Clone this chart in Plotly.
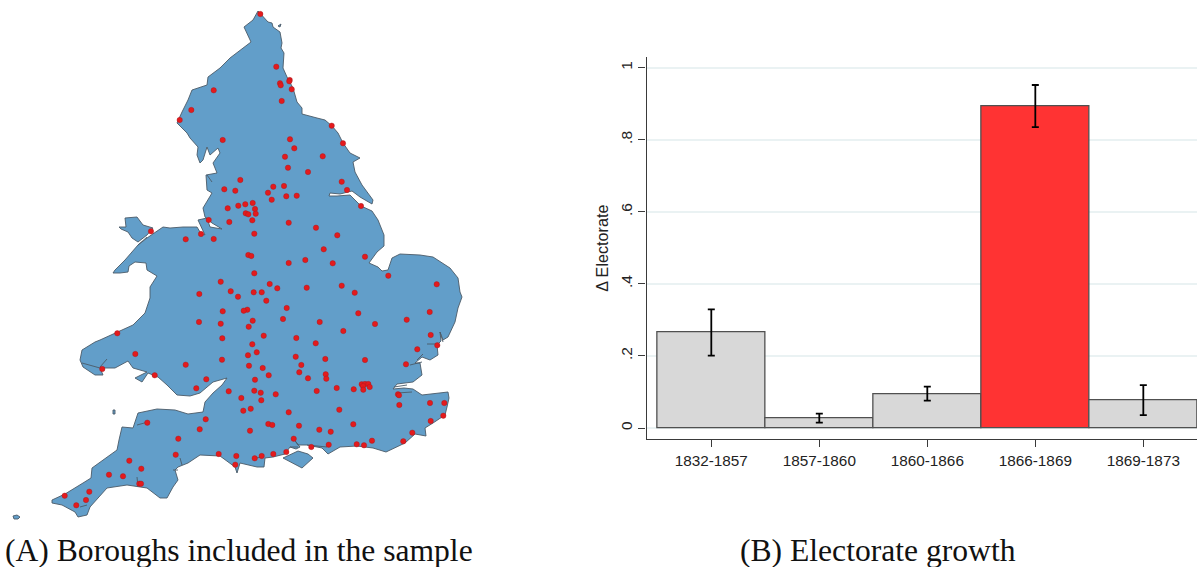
import plotly.graph_objects as go

# ---------- Panel B data ----------
periods = ["1832-1857", "1857-1860", "1860-1866", "1866-1869", "1869-1873"]
growth = [0.2645, 0.0278, 0.0944, 0.893, 0.0757]
err_high = [0.329, 0.040, 0.115, 0.952, 0.119]
err_low = [0.2007, 0.015, 0.076, 0.835, 0.036]
bar_colors = ["#d8d8d8", "#d8d8d8", "#d8d8d8", "#ff3333", "#d8d8d8"]
y_ticks = [0, 0.2, 0.4, 0.6, 0.8, 1]
y_labels = ["0", ".2", ".4", ".6", ".8", "1"]

# ---------- Panel A data (map-plane coordinates) ----------
main_x = [258,262,268,272,273,280,282,281,284,283,287,293,297,302,302,317,325,332,338,343,350,360,353,355,362,373,372,
          360,352,340,330,329,337,350,355,361,372,378,384,384,377,370,369,378,382,388,392,400,420,433,450,458,460,462,458,455,448,443,
          440,441,437,438,430,422,415,420,422,413,397,393,404,413,422,448,449,447,445,433,425,426,415,405,397,386,373,357,340,328,322,307,298,
          293,300,296,290,285,273,265,264,257,240,237,235,220,200,188,178,175,178,173,167,160,147,127,107,
          90,87,78,75,62,52,52,65,83,91,92,117,119,122,133,138,157,175,188,203,205,213,222,227,213,200,190,177,167,158,148,142,135,147,133,128,115,100,103,95,83,80,82,95,100,117,133,145,150,150,157,147,
          146,135,129,128,120,113,115,
          125,138,147,163,170,183,197,200,205,198,207,210,222,212,205,203,212,207,206,217,213,220,218,210,207,203,200,197,198,190,187,177,182,188,192,207,208,220,230,240,251,244,253,258]
main_y = [11,15,22,23,27,32,43,48,53,68,77,88,102,108,114,118,120,126,133,143,153,158,162,172,185,200,204,
          197,191,194,193,196,196,195,200,206,211,220,235,246,252,262,263,267,271,270,258,254,255,257,268,278,292,297,308,322,337,340,
          332,341,345,355,360,357,363,363,375,382,384,389,388,389,395,392,398,407,415,423,428,436,434,443,447,452,448,446,447,454,448,445,445,
          438,447,449,447,454,457,458,467,467,463,473,467,456,455,463,467,470,480,487,498,498,488,485,488,
          507,515,517,512,505,503,500,494,483,478,468,450,440,427,428,413,409,410,414,412,402,393,385,378,382,393,396,395,385,377,373,382,378,372,368,361,368,368,375,375,367,360,350,342,340,332,325,313,298,287,276,270,
          263,262,266,272,273,273,270,
          260,245,238,227,228,227,227,232,235,220,218,227,229,223,217,208,193,190,175,173,163,153,148,155,147,160,163,155,147,138,133,123,112,100,90,85,77,68,58,50,42,27,20,11]
anglesey_x = [119,126,125,137,143,153,147,138,132,128,121,119]
anglesey_y = [227,227,218,217,225,228,235,242,238,232,229,227]
wight_x = [283,298,308,313,302,293,283]
wight_y = [458,451,454,458,468,463,458]
scilly_x = [13,17,20,18,14,13]
scilly_y = [516,515,517,519,519,516]
lundy_x = [113,115,115,113,113]
lundy_y = [410,410,414,414,410]
farne_x = [278,281,280,278]
farne_y = [26,24,27,26]

# Tidal creeks and estuaries drawn as thin dark lines
creek_x = [427,439,None,440,443,None,410,422,None,417,423,None,394,407,None,397,412,None,307,327,None,290,298,None,255,263,None,
           137,138,None,80,87,None,180,182,None,173,178,None,100,107,None,82,100,None,137,148,None,207,212,None,138,147]
creek_y = [344,344,None,332,342,None,365,362,None,360,354,None,387,385,None,393,392,None,445,447,None,447,447,None,458,457,None,
           477,487,None,507,505,None,458,465,None,470,470,None,367,359,None,363,368,None,425,422,None,175,182,None,245,237]

borough_x = [260.3,276.3,289.7,289.3,280,280.7,291.7,213.7,281.7,191.3,179.7,222.7,290,294.3,285,288,240.3,224.3,235.3,273.3,284,268,286.3,296.7,271.7,
             227.7,238.3,245.3,252.7,255,245.7,248.3,255.7,252.3,208.7,229.3,288.7,151,201,254.3,185.7,213.7,248.3,251.3,288.7,
             331.7,343,322.7,308,341.7,347,361,316,337.3,323.7,365,305.3,332.7,
             254.3,269.7,277.3,306.7,341.7,354.7,388.3,436.7,253.7,261.7,266.3,286.7,247.3,243.7,358.3,429.7,252.7,283,319.7,406.7,375,248.7,343.3,263.7,296.3,430.7,
             315.7,252.3,437.3,417.3,256.7,248,295.7,325.3,365,406,301.3,249,262.7,299.3,268.7,325.7,326.3,308,255,336.7,353.7,361.7,365,368.3,363,369.7,363.3,
             316.7,254.3,260.7,275.7,241.3,261.3,398,399,399.3,430,444.3,250.7,243.3,339.3,288.7,443.3,430.7,268.3,272.3,299,353.3,319.3,330.7,250,412.3,293.7,372,403.3,
             328.7,356.7,364,311.3,286.3,273.3,261.7,254.7,
             220.7,230.7,238,199.3,222.7,199,220.7,222.3,117.3,135.3,222,185.7,102.3,154.7,206.3,196.3,228.7,205.7,147.3,199.7,178.3,175.7,218.7,236.3,235.3,129.3,141.3,109,123,139.3,141,89.3,64.7,86,76.3]
borough_y = [14,66.7,80,81.3,83.3,85.3,89.3,90.3,101,110,120,140,139.3,148.3,156.7,167.7,180,189.3,190.7,186.7,186,192.7,196.3,195.7,199.7,
             208.3,205.7,204.3,203,209,213.3,214.3,213.7,220.3,220,222,222.7,231.3,234,233.7,239.3,239,255,256,263,
             125.7,143.3,156.3,172,181.7,190,206,227.7,235.3,249.3,256.7,260,263.3,
             273.3,284,288.3,287.7,285.7,292.7,275.7,284.3,292.3,292.3,300.7,308,309.7,310.7,313.3,312,320.7,319,322,319.7,324,326.7,331,335.7,338,335,
             343.3,344.3,345.3,349.3,352.3,355.3,356.7,359,360,364.3,365,365.7,368,372.3,375.3,374.3,378.7,378.3,379.7,388,389.3,384.3,384,384,386,387,389.7,
             391,390.7,392.7,394.3,398,400.3,394.3,395.3,405,403,403,408.7,410.7,409.7,412.3,415.7,421,424,425,425.7,424.3,429.7,431.7,430.7,432.7,438.7,440.7,441.3,
             444.7,444.3,445.3,447,452,454,456,458.3,
             281.7,291.3,296.7,294,311.3,322,323.7,338.3,333.3,354,359.7,364.7,369,375.3,379.3,388.3,391.3,419.3,422.7,429.3,438.7,454.7,454,456,464.7,460.7,468.7,474.7,476.3,483.7,483.7,491.7,495.7,500,505.3]

W, H = 1197, 567
AX_LEFT, AX_TOP, AX_BOTTOM = 646.5, 57.3, 439.0
MAP_W = 560
TEXT = "#222222"
AXIS = "#3a3a3a"

fig = go.Figure()

# Map polygons
poly_x, poly_y = [], []
for xs, ys in [(main_x, main_y), (anglesey_x, anglesey_y), (wight_x, wight_y),
               (scilly_x, scilly_y), (lundy_x, lundy_y), (farne_x, farne_y)]:
    poly_x += xs + [None]
    poly_y += ys + [None]

fig.add_trace(go.Scatter(x=poly_x, y=poly_y, mode="lines", fill="toself",
                         fillcolor="#629ec9", line=dict(color="#4b5a68", width=0.9),
                         xaxis="x2", yaxis="y2", hoverinfo="skip"))
fig.add_trace(go.Scatter(x=creek_x, y=creek_y, mode="lines",
                         line=dict(color="#4b5a68", width=0.9),
                         xaxis="x2", yaxis="y2", hoverinfo="skip"))
fig.add_trace(go.Scatter(x=borough_x, y=borough_y, mode="markers",
                         marker=dict(size=5.4, color="#e41a1c", line=dict(color="#a01a20", width=0.4)),
                         xaxis="x2", yaxis="y2", hoverinfo="skip"))

# Bars
fig.add_trace(go.Bar(x=list(range(len(periods))), y=growth, width=1.0,
                     marker=dict(color=bar_colors, line=dict(color="#505050", width=1.3)),
                     error_y=dict(type="data", symmetric=False,
                                  array=[h - g for h, g in zip(err_high, growth)],
                                  arrayminus=[g - l for g, l in zip(growth, err_low)],
                                  color="#000000", thickness=1.8, width=3.5),
                     xaxis="x", yaxis="y"))

fig.update_layout(
    width=W, height=H, margin=dict(l=0, r=0, t=0, b=0), autosize=False,
    paper_bgcolor="white", plot_bgcolor="white", showlegend=False, bargap=0,
    font=dict(family="Liberation Sans", color=TEXT),
    xaxis=dict(domain=[AX_LEFT / W, 1], range=[-0.60, 4.497],
               tickmode="array", tickvals=list(range(len(periods))), ticktext=periods,
               ticks="outside", ticklen=7, tickwidth=1, tickcolor=AXIS,
               showline=True, linecolor=AXIS, linewidth=1.3, showgrid=False, zeroline=False,
               tickfont=dict(size=15.3, color=TEXT), anchor="y"),
    yaxis=dict(domain=[(H - AX_BOTTOM) / H, (H - AX_TOP) / H],
               range=[-(AX_BOTTOM - 428) / 360.3, (428 - AX_TOP) / 360.3],
               tickmode="array", tickvals=y_ticks, ticktext=y_labels, tickangle=-90,
               ticks="outside", ticklen=7, tickwidth=1, tickcolor=AXIS,
               showline=True, linecolor=AXIS, linewidth=1.3,
               showgrid=True, gridcolor="#eaf2f3", gridwidth=1.6, zeroline=False,
               tickfont=dict(size=15.5, color=TEXT),
               title=dict(text="Δ Electorate", font=dict(size=16.2, color=TEXT), standoff=5),
               anchor="x"),
    xaxis2=dict(domain=[0, MAP_W / W], range=[0, MAP_W], visible=False, anchor="y2"),
    yaxis2=dict(domain=[0, 1], range=[H, 0], visible=False, anchor="x2"),
    annotations=[
        dict(text="(A) Boroughs included in the sample", xref="paper", yref="paper",
             x=3 / W, y=0, xanchor="left", yanchor="bottom", showarrow=False, yshift=-3,
             font=dict(family="Liberation Serif", size=31.6, color="#111111")),
        dict(text="(B) Electorate growth", xref="paper", yref="paper",
             x=877.5 / W, y=0, xanchor="center", yanchor="bottom", showarrow=False, yshift=-3,
             font=dict(family="Liberation Serif", size=31.6, color="#111111")),
    ],
)

fig.write_html("out.html", config={"displayModeBar": False},
               post_script="document.body.style.margin='0';")
